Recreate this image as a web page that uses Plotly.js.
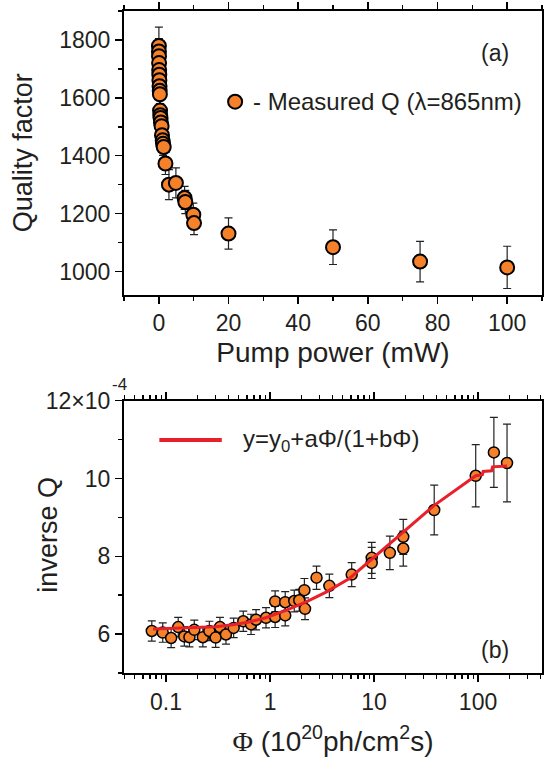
<!DOCTYPE html>
<html>
<head>
<meta charset="utf-8">
<script src="https://cdn.plot.ly/plotly-3.0.1.min.js"></script>
<style>html,body{margin:0;padding:0;background:#fff;}#chart{width:544px;height:759px;}</style>
</head>
<body>
<div id="chart"></div>
<script>
// Panel (a): quality factor vs pump power
const pumpPower = [0.02, 0.03, 0.05, 0.07, 0.1, 0.13, 0.16, 0.2, 0.25, 0.3, 0.35, 0.4, 0.5, 0.6, 0.8, 0.9, 1.1, 1.2, 1.4, 1.9, 2.9, 4.9, 7.4, 7.6, 9.9, 10.1, 20, 50, 75, 100];
const qualityFactor = [1779, 1760, 1744, 1720, 1696, 1680, 1661, 1640, 1624, 1612, 1556, 1540, 1530, 1515, 1502, 1471, 1453, 1441, 1430, 1373, 1300, 1306, 1254, 1240, 1196, 1167, 1131, 1084, 1034, 1014];
const qualityErr = [65, 45, 45, 45, 45, 45, 45, 45, 45, 45, 40, 40, 40, 40, 40, 40, 40, 40, 40, 38, 52, 52, 40, 40, 40, 40, 54, 60, 70, 73];

// Panel (b): inverse Q (units of 1e-4) vs photon flux
const phi = [0.073, 0.093, 0.112, 0.131, 0.150, 0.168, 0.187, 0.226, 0.261, 0.300, 0.33, 0.377, 0.447, 0.553, 0.657, 0.734, 0.915, 1.12, 1.12, 1.40, 1.40, 1.71, 1.91, 2.14, 2.17, 2.80, 3.72, 6.1, 9.5, 9.5, 14.2, 19.1, 19.1, 37.9, 95, 142, 190];
const inverseQ = [6.08, 6.04, 5.90, 6.18, 5.94, 5.92, 6.11, 5.92, 6.08, 5.91, 6.18, 5.99, 6.16, 6.33, 6.25, 6.37, 6.42, 6.44, 6.84, 6.48, 6.82, 6.85, 6.87, 7.13, 6.65, 7.45, 7.24, 7.53, 7.96, 7.83, 8.09, 8.50, 8.20, 9.19, 10.07, 10.67, 10.40];
const inverseQErr = [0.26, 0.25, 0.25, 0.25, 0.25, 0.25, 0.25, 0.25, 0.25, 0.25, 0.25, 0.25, 0.25, 0.26, 0.26, 0.26, 0.26, 0.27, 0.27, 0.27, 0.27, 0.28, 0.28, 0.3, 0.28, 0.3, 0.3, 0.31, 0.4, 0.4, 0.43, 0.45, 0.45, 0.64, 0.8, 0.9, 1.0];

// Fit curve y = y0 + aΦ/(1+bΦ)
const fitPhi = [0.075, 0.1, 0.15, 0.2, 0.3, 0.44, 0.63, 0.91, 1.42, 2.2, 3.46, 5.8, 9.5, 14.2, 19.1, 37.9, 95, 110, 112, 135, 138, 190];
const fitInvQ = [6.13, 6.14, 6.15, 6.16, 6.19, 6.24, 6.31, 6.42, 6.61, 6.82, 7.08, 7.43, 7.93, 8.33, 8.63, 9.31, 10.07, 10.1, 10.18, 10.2, 10.3, 10.32];

// Tick labels
const yTickVals2 = [6, 8, 10, 12];
const yTickText2 = ['6', '8', '10', '12\u00d710'];

const FONT = '"Liberation Sans", Arial, Helvetica, sans-serif';
const TXT = '#231f20';
const ORANGE = '#f5822a';
const RED = '#e8202a';

const traces = [
  {
    x: pumpPower, y: qualityFactor, xaxis: 'x', yaxis: 'y',
    type: 'scatter', mode: 'markers', name: 'Measured Q', showlegend: false,
    marker: {size: 14, color: ORANGE, line: {color: '#000', width: 2}},
    error_y: {type: 'data', array: qualityErr, visible: true, color: '#222', thickness: 1.2, width: 4}
  },
  {
    x: phi, y: inverseQ, xaxis: 'x2', yaxis: 'y2',
    type: 'scatter', mode: 'markers', name: 'inverse Q', showlegend: false,
    marker: {size: 11, color: ORANGE, line: {color: '#000', width: 1.5}},
    error_y: {type: 'data', array: inverseQErr, visible: true, color: '#222', thickness: 1.2, width: 4}
  },
  {
    x: fitPhi, y: fitInvQ, xaxis: 'x2', yaxis: 'y2',
    type: 'scatter', mode: 'lines', name: 'fit', showlegend: false,
    line: {color: RED, width: 3}
  }
];

const axCommon = {
  showline: true, linecolor: '#000', linewidth: 2, mirror: 'ticks',
  ticks: 'outside', ticklen: 7, tickwidth: 1.5, tickcolor: '#000',
  showgrid: false, zeroline: false,
  tickfont: {family: FONT, size: 23, color: TXT}
};

function px2x(px) { return (px - 124) / 417.6; }
function py2y(py) { return (673 - py) / 662; }

const layout = {
  width: 544, height: 759,
  margin: {l: 124, r: 2, t: 11, b: 86},
  paper_bgcolor: '#fff', plot_bgcolor: '#fff',
  showlegend: false,
  font: {family: FONT, color: TXT},
  xaxis: Object.assign({}, axCommon, {
    domain: [0, 1], anchor: 'y', range: [-10, 110], tick0: 0, dtick: 20,
    minor: {dtick: 10, ticklen: 4, tickwidth: 1.5, tickcolor: '#000', ticks: 'outside'},
    title: {text: 'Pump power (mW)', font: {family: FONT, size: 28, color: TXT}, standoff: 7}
  }),
  yaxis: Object.assign({}, axCommon, {
    domain: [0.5716, 1], anchor: 'x', range: [920, 1900], tick0: 0, dtick: 200,
    minor: {dtick: 100, ticklen: 4, tickwidth: 1.5, tickcolor: '#000', ticks: 'outside'},
    title: {text: 'Quality factor', font: {family: FONT, size: 27, color: TXT}, standoff: 19}
  }),
  xaxis2: Object.assign({}, axCommon, {
    domain: [0, 1], anchor: 'y2', type: 'log', range: [-1.404, 2.615], dtick: 1,
    minor: {dtick: 'D1', ticklen: 4, tickwidth: 1.5, tickcolor: '#000', ticks: 'outside'},
    title: {text: '<span style="font-family:\'Liberation Serif\',\'Times New Roman\',serif">\u03a6</span> (10<sup>20</sup>ph/cm<sup>2</sup>s)', font: {family: FONT, size: 28, color: TXT}, standoff: 18}
  }),
  yaxis2: Object.assign({}, axCommon, {
    domain: [0, 0.4113], anchor: 'x2', range: [5, 12],
    tickmode: 'array', tickvals: yTickVals2, ticktext: yTickText2,
    minor: {dtick: 1, tick0: 0, ticklen: 4, tickwidth: 1.5, tickcolor: '#000', ticks: 'outside'}
  }),
  shapes: [
    {type: 'circle', xref: 'paper', yref: 'paper', xsizemode: 'pixel', ysizemode: 'pixel',
     xanchor: px2x(235), yanchor: py2y(101.7), x0: -7, x1: 7, y0: -7, y1: 7,
     fillcolor: ORANGE, line: {color: '#000', width: 2}},
    {type: 'line', xref: 'paper', yref: 'paper', x0: px2x(159.3), x1: px2x(221.7), y0: py2y(440), y1: py2y(440),
     line: {color: RED, width: 4}}
  ],
  annotations: [
    {text: 'inverse Q', xref: 'paper', yref: 'paper', x: px2x(48), y: py2y(534.7), textangle: -90,
     xanchor: 'center', yanchor: 'middle', showarrow: false, font: {family: FONT, size: 27, color: TXT}},
    {text: '- Measured Q (\u03bb=865nm)', xref: 'paper', yref: 'paper', x: px2x(251), y: py2y(101.7),
     xanchor: 'left', yanchor: 'middle', showarrow: false, font: {family: FONT, size: 24, color: TXT}},
    {text: 'y=y<sub>0</sub>+a\u03a6/(1+b\u03a6)', xref: 'paper', yref: 'paper', x: px2x(241), y: py2y(440),
     xanchor: 'left', yanchor: 'middle', showarrow: false, font: {family: FONT, size: 24, color: TXT}},
    {text: '(a)', xref: 'paper', yref: 'paper', x: px2x(495), y: py2y(53.3),
     xanchor: 'center', yanchor: 'middle', showarrow: false, font: {family: FONT, size: 23, color: TXT}},
    {text: '(b)', xref: 'paper', yref: 'paper', x: px2x(495), y: py2y(650.4),
     xanchor: 'center', yanchor: 'middle', showarrow: false, font: {family: FONT, size: 23, color: TXT}},
    {text: '-4', xref: 'paper', yref: 'paper', x: px2x(119.5), y: py2y(384.5),
     xanchor: 'center', yanchor: 'middle', showarrow: false, font: {family: FONT, size: 17, color: TXT}}
  ]
};

Plotly.newPlot('chart', traces, layout, {staticPlot: true, displayModeBar: false});
</script>
</body>
</html>
